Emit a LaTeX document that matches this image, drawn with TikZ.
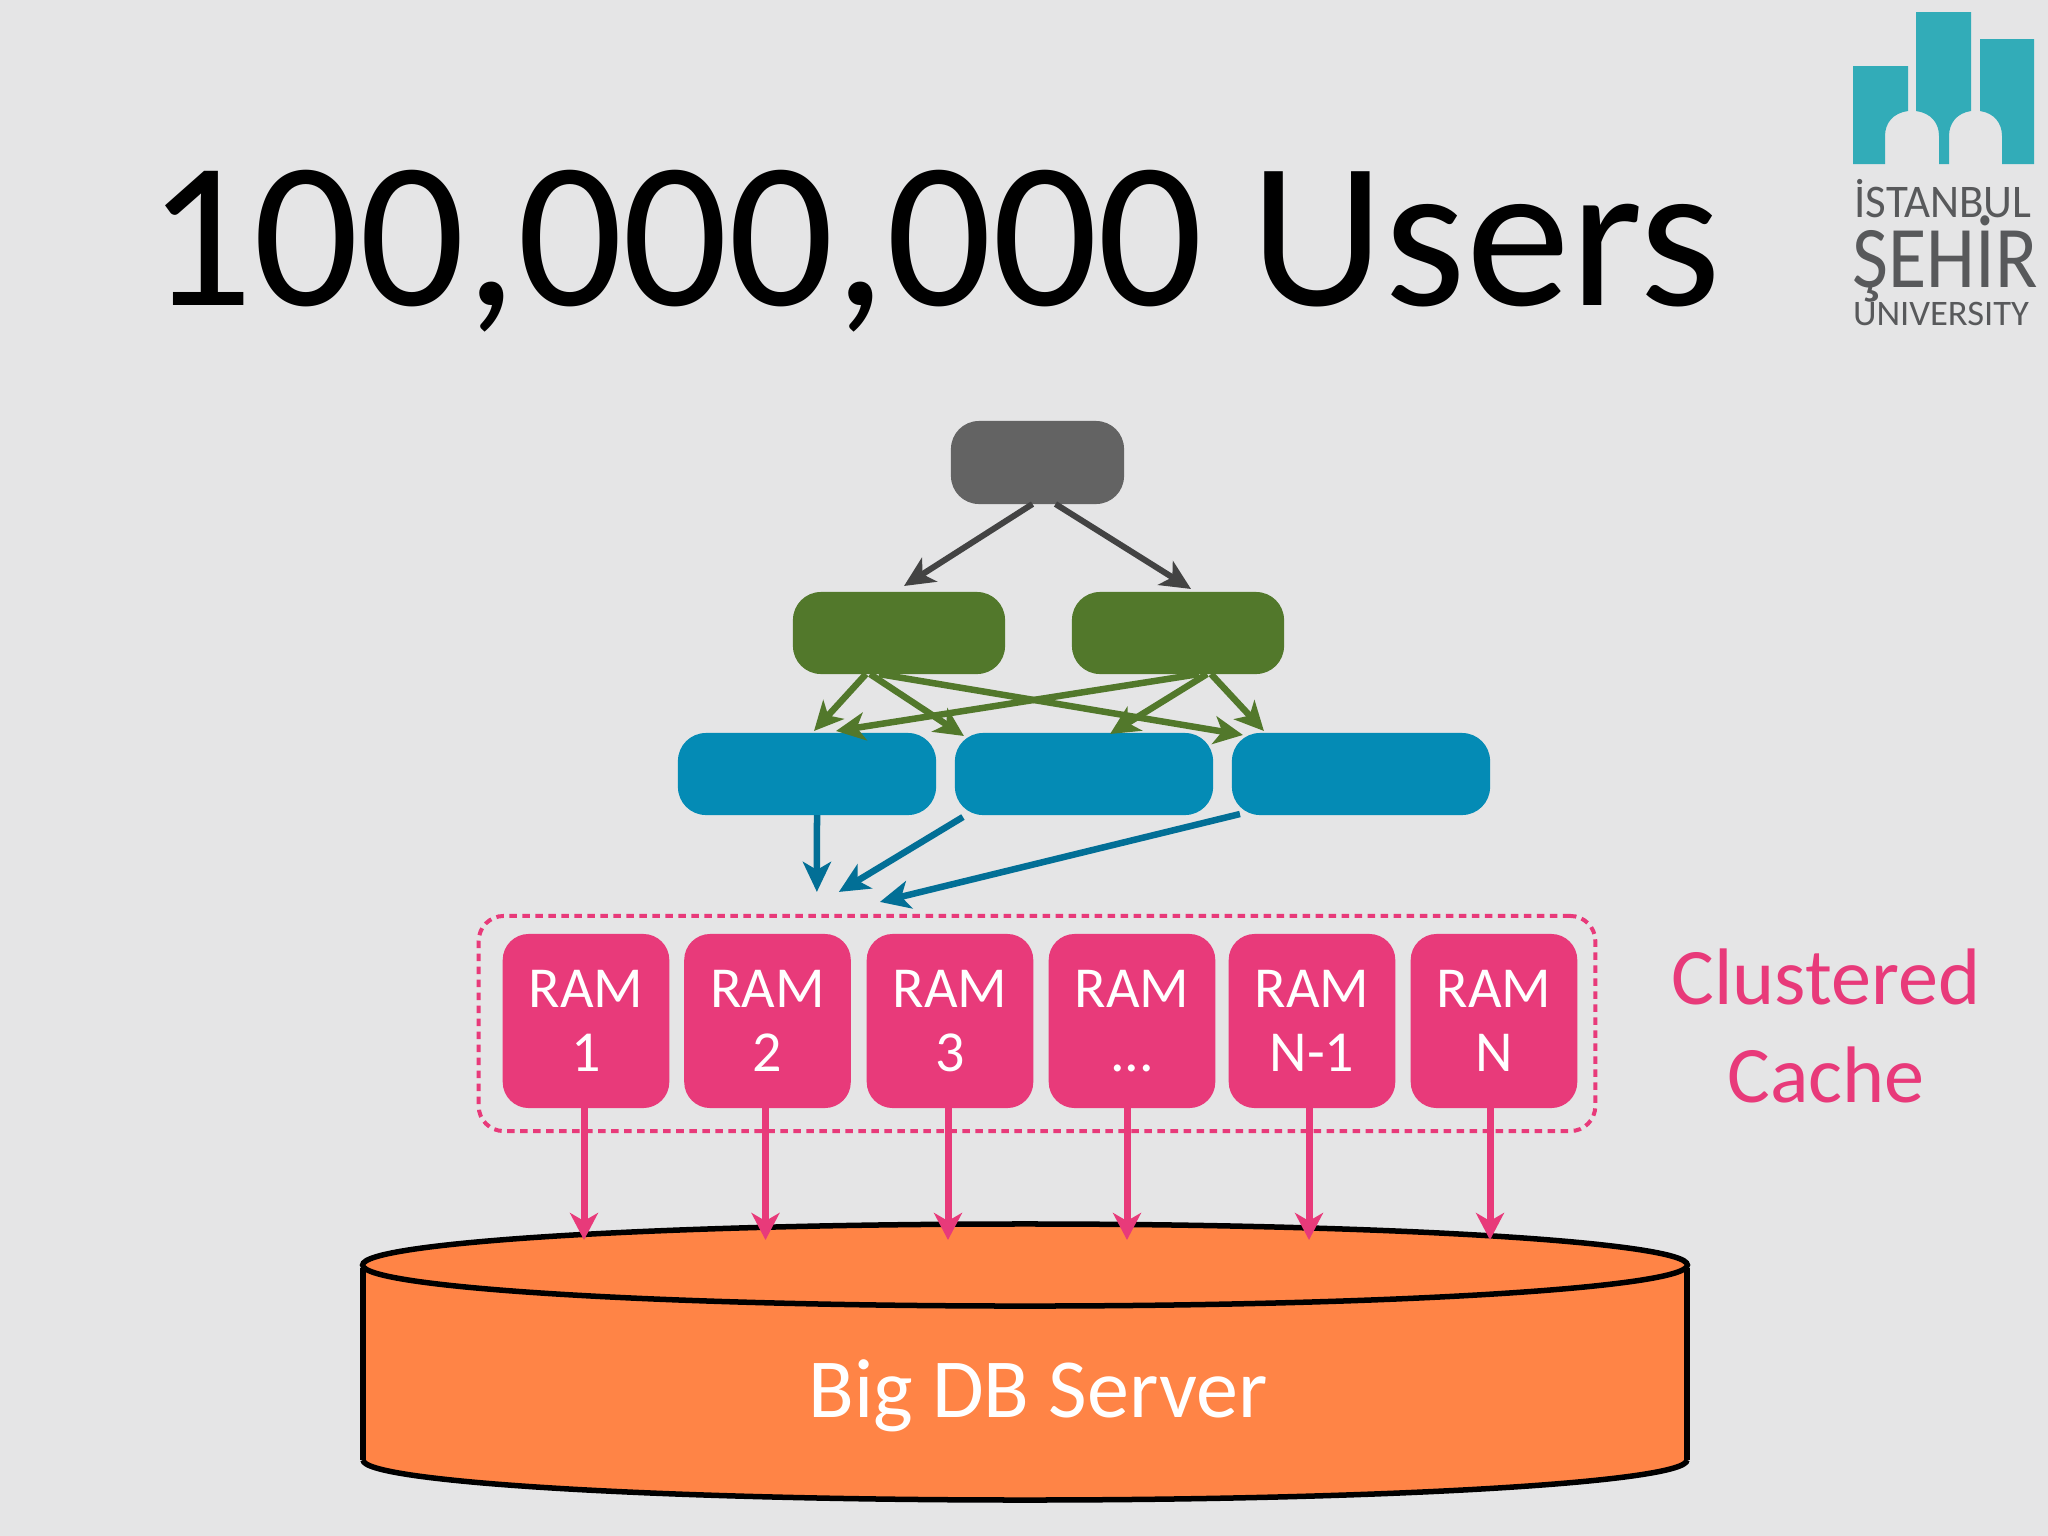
\documentclass[tikz,border=0pt]{standalone}
\usepackage{fontspec}
\usepackage{graphicx}
\setmainfont{Carlito}
\usetikzlibrary{arrows.meta,shapes.geometric,calc}
\definecolor{bgc}{HTML}{E5E5E6}
\definecolor{grayn}{HTML}{636363}
\definecolor{grayl}{HTML}{434343}
\definecolor{greenn}{HTML}{52782B}
\definecolor{bluen}{HTML}{048BB5}
\definecolor{bluel}{HTML}{026F96}
\definecolor{pinkc}{HTML}{E83A7A}
\definecolor{orangec}{HTML}{FF8446}
\definecolor{tealc}{HTML}{32ACB8}
\definecolor{logog}{HTML}{58595B}
\tikzset{
  x=0.01cm,y=-0.01cm,
  box/.style={draw=none,rounded corners=#1,inner sep=0pt,outer sep=0pt},
  grayb/.style={box=0.28cm,fill=grayn,minimum width=1.73cm,minimum height=0.83cm},
  greenb/.style={box=0.28cm,fill=greenn,minimum width=2.12cm,minimum height=0.82cm},
  blueb/.style={box=0.28cm,fill=bluen,minimum width=2.58cm,minimum height=0.82cm},
  ram/.style={box=0.26cm,fill=pinkc,minimum width=1.665cm,minimum height=1.74cm,text=white,align=center,font=\fontsize{16.5}{18.2}\selectfont},
  grayar/.style={draw=grayl,line width=0.06cm,-{Stealth[length=0.3cm,width=0.28cm,inset=0.08cm]}},
  greenar/.style={draw=greenn,line width=0.065cm,-{Stealth[length=0.29cm,width=0.28cm,inset=0.08cm]}},
  bluear/.style={draw=bluel,line width=0.065cm,-{Stealth[length=0.3cm,width=0.28cm,inset=0.08cm]}},
  pinkar/.style={draw=pinkc,line width=0.07cm,-{Stealth[length=0.27cm,width=0.28cm,inset=0.08cm]}},
  dbline/.style={draw=black,line width=0.055cm},
  logotext/.style={text=logog,anchor=base,inner sep=0pt},
}
\begin{document}
\begin{tikzpicture}
\useasboundingbox (0,0) rectangle (2048,1536);
\fill[bgc] (0,0) rectangle (2048,1536);

% title
\node[anchor=base,inner sep=0pt,text=black,font=\fontsize{59.3}{70}\selectfont] (title) at (934,305) {100,000,000 Users};

% logo
\fill[tealc] (1853,66) -- (1908,66) -- (1908,111) .. controls (1893,113) and (1885,123) .. (1885,136) -- (1885,164) -- (1853,164) -- cycle;
\fill[tealc] (1916,12) -- (1971,12) -- (1971,111) .. controls (1957,113) and (1949,123) .. (1949,136) -- (1949,164) -- (1939,164) -- (1939,136) .. controls (1939,123) and (1931,113) .. (1916,111) -- cycle;
\fill[tealc] (1980,39) -- (2034,39) -- (2034,164) -- (2002,164) -- (2002,136) .. controls (2002,123) and (1994,113) .. (1980,111) -- cycle;
\node[logotext,font=\fontsize{13.3}{14}\selectfont] (l1) at (1943,217) {\scalebox{0.96}[1]{İSTANBUL}};
\node[logotext,font=\fontsize{25}{26}\selectfont] (l2) at (1945,287) {\scalebox{0.89}[1]{ŞEHİR}};
\node[logotext,font=\fontsize{10.2}{11}\selectfont] (l3) at (1941,325) {\scalebox{1.02}[1]{UNIVERSITY}};

% database
\fill[orangec] (363,1265) -- (363,1460) arc[start angle=180,end angle=360,x radius=662,y radius=-40] -- (1687,1265) -- cycle;
\draw[draw=black,line width=0.06cm] (363,1268) -- (363,1460);
\draw[draw=black,line width=0.06cm] (1687,1268) -- (1687,1460);
\draw[dbline] (363,1460) arc[start angle=180,end angle=360,x radius=662,y radius=-40];
\node[ellipse,fill=orangec,dbline,minimum width=13.24cm,minimum height=0.82cm,inner sep=0pt,outer sep=0pt] (dbtop) at (1025,1265) {};
\coordinate (tipline) at ([yshift=-0.16cm]dbtop.north);
\node[inner sep=0pt,anchor=base,text=white,font=\fontsize{23.9}{26}\selectfont] (dbname) at (1038,1417) {Big DB Server};

% cluster
\node[draw=pinkc,line width=0.04cm,dash pattern=on 0.075cm off 0.055cm,rounded corners=0.25cm,minimum width=11.16cm,minimum height=2.15cm,inner sep=0pt,outer sep=0pt] (cluster) at (1037,1023.5) {};
\node[ram] (r1) at (586,1021) {RAM\\1};
\node[ram] (r2) at (767.5,1021) {RAM\\2};
\node[ram] (r3) at (950,1021) {RAM\\3};
\node[ram] (r4) at (1132,1021) {RAM\\...};
\node[ram] (r5) at (1312,1021) {RAM\\N-1};
\node[ram] (r6) at (1494,1021) {RAM\\N};
\node[inner sep=0pt,text=pinkc,align=center,font=\fontsize{22.8}{27.9}\selectfont] (cc) at (1826,1026) {Clustered\\Cache};

% pink connectors
\foreach \n/\s in {r1/-0.02,r2/-0.02,r3/-0.02,r4/-0.05,r5/-0.03,r6/-0.04}
  \draw[pinkar] ([xshift=\s cm]\n.south) -- ([xshift=\s cm]\n.south |- tipline);

% web tier
\node[grayb] (lb) at (1037.5,462.5) {};
\node[greenb] (g1) at (899,633) {};
\node[greenb] (g2) at (1178,633) {};
\node[blueb] (b1) at (807,774) {};
\node[blueb] (b2) at (1084,774) {};
\node[blueb] (b3) at (1361,774) {};

\draw[grayar] ([xshift=-0.05cm]lb.south) -- ([xshift=0.05cm,yshift=0.06cm]g1.north);
\draw[grayar] ([xshift=0.18cm]lb.south) -- ([xshift=0.13cm,yshift=0.03cm]g2.north);

\draw[greenar] ([xshift=-0.33cm]g1.south) -- ([xshift=0.07cm,yshift=0.02cm]b1.north);
\draw[greenar] ([xshift=-0.29cm]g1.south) -- ([xshift=-1.20cm,yshift=-0.03cm]b2.north);
\draw[greenar] ([xshift=-0.20cm]g1.south) -- ([xshift=-1.18cm,yshift=-0.02cm]b3.north);
\draw[greenar] ([xshift=0.21cm]g2.south) -- ([xshift=0.29cm,yshift=0.02cm]b1.north);
\draw[greenar] ([xshift=0.29cm]g2.south) -- ([xshift=0.26cm,yshift=-0.01cm]b2.north);
\draw[greenar] ([xshift=0.33cm]g2.south) -- ([xshift=-0.97cm,yshift=0.02cm]b3.north);

\draw[bluear] ([xshift=0.10cm]b1.south) -- ([xshift=-2.20cm,yshift=0.24cm]cluster.north);
\draw[bluear] ([xshift=-1.21cm,yshift=-0.02cm]b2.south) -- ([xshift=-1.98cm,yshift=0.24cm]cluster.north);
\draw[bluear] ([xshift=-1.21cm,yshift=0.01cm]b3.south) -- ([xshift=-1.57cm,yshift=0.14cm]cluster.north);
\end{tikzpicture}
\end{document}
